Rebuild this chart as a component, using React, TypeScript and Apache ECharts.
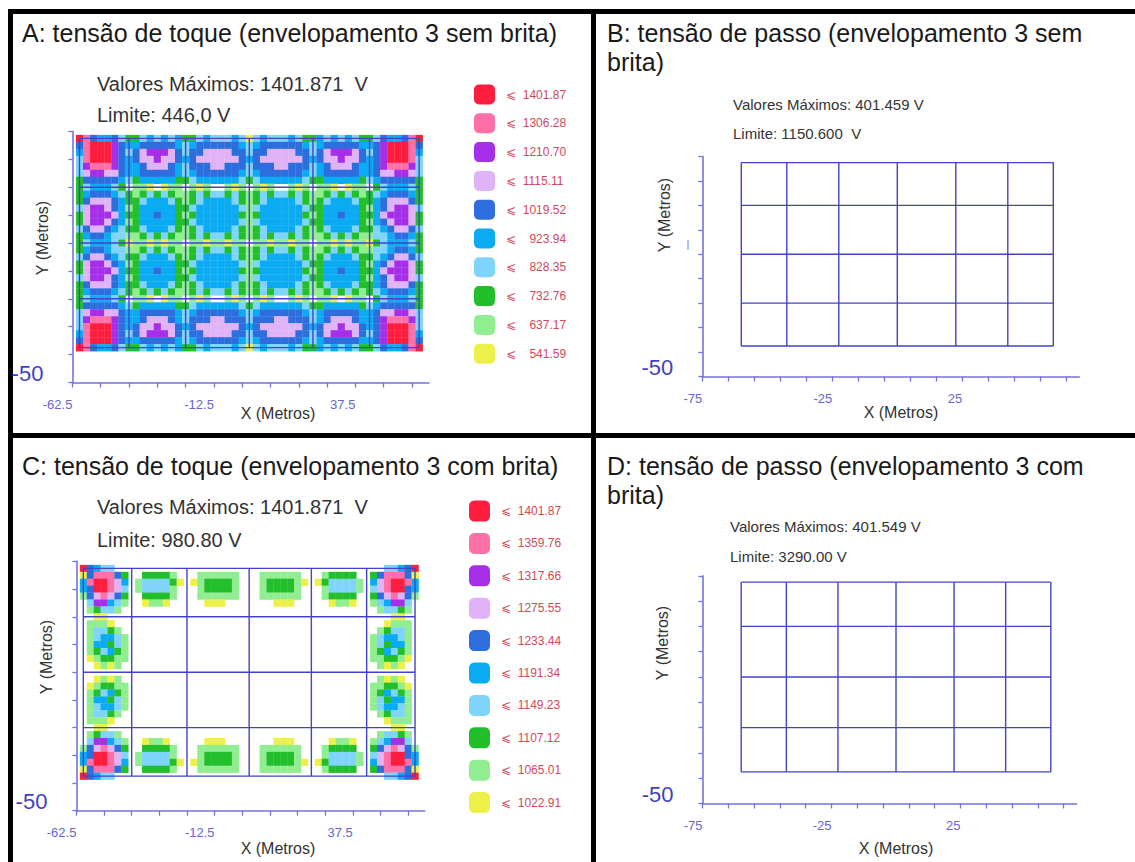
import { useEffect, useRef } from "react";
import * as echarts from "echarts";

const FONT = "'Liberation Sans', Arial, Helvetica, sans-serif";

// level 0 (lowest, yellow) ... level 9 (highest, red)
const LEVEL_COLORS = ["#EEF04A", "#90EE90", "#22BE2C", "#7FD4FB", "#0AABF2", "#2D6EDE", "#E0B3F6", "#A52EE8", "#FF70A8", "#FF1D3E"];

const LEGEND_A = ["1401.87", "1306.28", "1210.70", "1115.11", "1019.52", "923.94", "828.35", "732.76", "637.17", "541.59"];
const LEGEND_C = ["1401.87", "1359.76", "1317.66", "1275.55", "1233.44", "1191.34", "1149.23", "1107.12", "1065.01", "1022.91"];

const MESH_X = [-60, -42.5, -22.5, 0, 22.5, 42.5, 60];
const MESH_Y = [-37.5, -20, 0, 20, 37.5];

const X_TICKS_AC = [-62.5, -52.5, -42.5, -32.5, -22.5, -12.5, -2.5, 7.5, 17.5, 27.5, 37.5, 47.5, 57.5];
const X_LABELS_AC = [-62.5, -12.5, 37.5];
const X_TICKS_BD = [-75, -65, -55, -45, -35, -25, -15, -5, 5, 15, 25, 35, 45, 55, 65];
const X_LABELS_BD = [-75, -25, 25];
const Y_TICKS = [-50, -40, -30, -20, -10, 0, 10, 20, 30, 40];
const Y_LABELS = [-50];

// heat cells: 2.5 m grid, centres from x=-60 (col 0) and y=37.5 (row 0, top)
const CELL = 2.5;
const GRID_X0 = -60;
const GRID_Y0 = 37.5;

// top-left quadrant (rows from top, columns from left, up to x = 0); '.' = no colour
const A_QUAD = [
  "9854453223434342234333430",
  "5899975445555543455555543",
  "4899975356777653556666553",
  "3899975456676654566666654",
  "3788875445666543555665553",
  "3677665445555543455555543",
  "2555554324444422344444432",
  "2344432.110.011.101..101.",
  "2455543212323211232332321",
  "2566654223444321234444321",
  "3677654124444422344444431",
  "2677764224454421244444421",
  "2677654124444422344444431",
  "3566543223444321234444321",
  "2455433112323211232332321",
  "234443201101011.11011011.",
];

const C_QUAD = [
  "95433",
  "0588852..22221...111111..",
  "4899864.1333320.0122221..",
  "4599863.133331...122221..",
  "1568652..22221...111111..",
  ".377431..0110.....000....",
  ".12331",
  "..00",
  ".1110",
  ".13321",
  ".134431",
  ".144231",
  ".123421",
  ".012211",
  "..0101",
  "",
];

const TITLES = [
  "A: tensão de toque (envelopamento 3 sem brita)",
  "B: tensão de passo (envelopamento 3 sem\nbrita)",
  "C: tensão de toque (envelopamento 3 com brita)",
  "D: tensão de passo (envelopamento 3 com\nbrita)",
];
const MAX_TEXT = ["Valores Máximos: 1401.871  V", "Valores Máximos: 401.459 V", "Valores Máximos: 1401.871  V", "Valores Máximos: 401.549 V"];
const LIMIT_TEXT = ["Limite: 446,0 V", "Limite: 1150.600  V", "Limite: 980.80 V", "Limite: 3290.00 V"];

const AXIS_COLOR = "#7373DC";
const MESH_COLOR = "#4343C8";
const TICK_LABEL_COLOR = "#6565D4";
const LEGEND_TEXT_COLOR = "#D2485A";

function buildHeat(quad: string[]) {
  const top = quad.map((r) => r.padEnd(25, "."));
  const rows = top.concat(top.slice(0, 15).reverse());
  const out: number[][] = [];
  rows.forEach((row, r) => {
    const full = row + row.slice(0, 24).split("").reverse().join("");
    for (let i = 0; i < full.length; i++) {
      const ch = full[i];
      if (ch === ".") continue;
      out.push([GRID_X0 + CELL * i, GRID_Y0 - CELL * r, Number(ch)]);
    }
  });
  return out;
}

function buildMesh() {
  const y0 = MESH_Y[0];
  const y1 = MESH_Y[MESH_Y.length - 1];
  const x0 = MESH_X[0];
  const x1 = MESH_X[MESH_X.length - 1];
  return [...MESH_X.map((x) => [x, y0, x, y1]), ...MESH_Y.map((y) => [x0, y, x1, y])];
}

const heatRender = (_p: any, api: any) => {
  const x = api.value(0) as number;
  const y = api.value(1) as number;
  const a = api.coord([x - CELL / 2, y + CELL / 2]);
  const b = api.coord([x + CELL / 2, y - CELL / 2]);
  return {
    type: "rect",
    shape: { x: a[0], y: a[1], width: b[0] - a[0] + 0.3, height: b[1] - a[1] + 0.3 },
    style: { fill: api.visual("color") },
  };
};

const meshRender = (_p: any, api: any) => {
  const a = api.coord([api.value(0), api.value(1)]);
  const b = api.coord([api.value(2), api.value(3)]);
  return {
    type: "line",
    shape: { x1: a[0], y1: a[1], x2: b[0], y2: b[1] },
    style: { stroke: MESH_COLOR, lineWidth: 1.4 },
  };
};

function xAxisFor(gridIndex: number, min: number, max: number, ticks: number[], labels: number[]) {
  return {
    type: "value",
    gridIndex,
    min,
    max,
    axisLine: { show: true, onZero: false, lineStyle: { color: AXIS_COLOR, width: 1.6 } },
    axisTick: { show: true, length: 5, customValues: ticks, lineStyle: { color: AXIS_COLOR, width: 1.3 } },
    axisLabel: {
      show: true,
      customValues: labels,
      align: "right",
      margin: 15,
      fontSize: 13,
      color: TICK_LABEL_COLOR,
      fontFamily: FONT,
    },
    splitLine: { show: false },
  };
}

function yAxisFor(gridIndex: number) {
  return {
    type: "value",
    gridIndex,
    min: -50,
    max: 40,
    interval: 10,
    axisLine: { show: true, onZero: false, lineStyle: { color: AXIS_COLOR, width: 1.6 } },
    axisTick: { show: true, length: 4, customValues: Y_TICKS, lineStyle: { color: AXIS_COLOR, width: 1.3 } },
    axisLabel: {
      show: true,
      customValues: Y_LABELS,
      fontSize: 22,
      color: "#3F3FC4",
      margin: 29,
      verticalAlign: "bottom",
      lineHeight: 18,
      fontFamily: FONT,
    },
    splitLine: { show: false },
  };
}

function legendFor(seriesIndex: number, labels: string[], left: number, top: number, itemHeight: number, gap: number) {
  return {
    type: "piecewise",
    seriesIndex,
    dimension: 2,
    orient: "vertical",
    left,
    top,
    padding: 0,
    align: "left",
    itemWidth: 21,
    itemHeight,
    itemGap: gap,
    textGap: 11,
    pieces: labels.map((lab, k) => ({
      value: 9 - k,
      label: (lab.length === 7 ? "⩽  " : "⩽    ") + lab,
      color: LEVEL_COLORS[9 - k],
    })),
    textStyle: { color: LEGEND_TEXT_COLOR, fontSize: 12, fontFamily: "'Liberation Sans', 'DejaVu Sans', sans-serif" },
  };
}

function text(x: number, y: number, t: string, size: number, color: string, extra: any = {}) {
  return {
    type: "text",
    x,
    y,
    silent: true,
    style: {
      text: t,
      fontSize: size,
      fontFamily: FONT,
      fill: color,
      textAlign: "left",
      textVerticalAlign: "middle",
      ...extra,
    },
  };
}

function vText(x: number, y: number, t: string) {
  return {
    type: "text",
    x,
    y,
    rotation: Math.PI / 2,
    silent: true,
    style: { text: t, fontSize: 16, fontFamily: FONT, fill: "#333", textAlign: "center", textVerticalAlign: "middle" },
  };
}

function buildOption() {
  const heatA = buildHeat(A_QUAD);
  const heatC = buildHeat(C_QUAD);
  const mesh = buildMesh();

  const graphic: any[] = [
    // panel frames
    { type: "rect", shape: { x: 8, y: 9, width: 1127, height: 5 }, style: { fill: "#000" }, silent: true },
    { type: "rect", shape: { x: 8, y: 9, width: 5, height: 853 }, style: { fill: "#000" }, silent: true },
    { type: "rect", shape: { x: 591, y: 9, width: 5, height: 853 }, style: { fill: "#000" }, silent: true },
    { type: "rect", shape: { x: 8, y: 433, width: 1127, height: 5 }, style: { fill: "#000" }, silent: true },
    // titles
    text(22, 33, TITLES[0], 25, "#1a1a1a"),
    text(607, 18.5, TITLES[1], 25, "#1a1a1a", { textVerticalAlign: "top", lineHeight: 29 }),
    text(22, 466, TITLES[2], 25, "#1a1a1a"),
    text(607, 451.5, TITLES[3], 25, "#1a1a1a", { textVerticalAlign: "top", lineHeight: 29 }),
    // max / limit
    text(97, 84, MAX_TEXT[0], 20, "#333"),
    text(97, 115, LIMIT_TEXT[0], 20, "#333"),
    text(733, 104, MAX_TEXT[1], 15, "#333"),
    text(733, 133, LIMIT_TEXT[1], 15, "#333"),
    text(97, 507, MAX_TEXT[2], 20, "#333"),
    text(97, 540, LIMIT_TEXT[2], 20, "#333"),
    text(730, 526, MAX_TEXT[3], 15, "#333"),
    text(730, 556, LIMIT_TEXT[3], 15, "#333"),
    // axis names
    text(278, 413, "X (Metros)", 16, "#333", { textAlign: "center" }),
    text(901, 412, "X (Metros)", 16, "#333", { textAlign: "center" }),
    text(278, 848, "X (Metros)", 16, "#333", { textAlign: "center" }),
    text(896, 848, "X (Metros)", 16, "#333", { textAlign: "center" }),
    vText(42, 238, "Y (Metros)"),
    vText(664, 215, "Y (Metros)"),
    vText(46, 657, "Y (Metros)"),
    vText(662, 643, "Y (Metros)"),
    { type: "line", shape: { x1: 688, y1: 240, x2: 688, y2: 250 }, style: { stroke: "#8fb0f0", lineWidth: 1.5 }, silent: true },
  ];

  return {
    animation: false,
    backgroundColor: "#fff",
    grid: [
      { left: 72.4, top: 131.4, width: 356.6, height: 251.1 },
      { left: 702.3, top: 156.5, width: 377, height: 220 },
      { left: 76.4, top: 561.4, width: 348.3, height: 249.3 },
      { left: 702.5, top: 575.8, width: 374.1, height: 227.7 },
    ],
    xAxis: [
      xAxisFor(0, -62.5, 63.5, X_TICKS_AC, X_LABELS_AC),
      xAxisFor(1, -75, 70, X_TICKS_BD, X_LABELS_BD),
      xAxisFor(2, -62.5, 63.5, X_TICKS_AC, X_LABELS_AC),
      xAxisFor(3, -75, 70, X_TICKS_BD, X_LABELS_BD),
    ],
    yAxis: [yAxisFor(0), yAxisFor(1), yAxisFor(2), yAxisFor(3)],
    visualMap: [
      legendFor(0, LEGEND_A, 474, 84.5, 20, 8.8),
      legendFor(1, LEGEND_C, 469, 500.5, 21, 11.4),
    ],
    series: [
      { type: "custom", name: "A", xAxisIndex: 0, yAxisIndex: 0, data: heatA, encode: { x: 0, y: 1 }, renderItem: heatRender, z: 2, silent: true },
      { type: "custom", name: "C", xAxisIndex: 2, yAxisIndex: 2, data: heatC, encode: { x: 0, y: 1 }, renderItem: heatRender, z: 2, silent: true },
      { type: "custom", xAxisIndex: 0, yAxisIndex: 0, data: mesh, encode: { x: [0, 2], y: [1, 3] }, renderItem: meshRender, z: 3, silent: true },
      { type: "custom", xAxisIndex: 1, yAxisIndex: 1, data: mesh, encode: { x: [0, 2], y: [1, 3] }, renderItem: meshRender, z: 3, silent: true },
      { type: "custom", xAxisIndex: 2, yAxisIndex: 2, data: mesh, encode: { x: [0, 2], y: [1, 3] }, renderItem: meshRender, z: 3, silent: true },
      { type: "custom", xAxisIndex: 3, yAxisIndex: 3, data: mesh, encode: { x: [0, 2], y: [1, 3] }, renderItem: meshRender, z: 3, silent: true },
    ],
    graphic,
  };
}

export default function App() {
  const ref = useRef<HTMLDivElement>(null);
  useEffect(() => {
    document.body.style.margin = "0";
    const chart = echarts.init(ref.current as HTMLDivElement, null, { renderer: "svg" });
    chart.setOption(buildOption() as any);
    return () => chart.dispose();
  }, []);
  return <div ref={ref} style={{ width: 1135, height: 862, background: "#fff" }} />;
}
